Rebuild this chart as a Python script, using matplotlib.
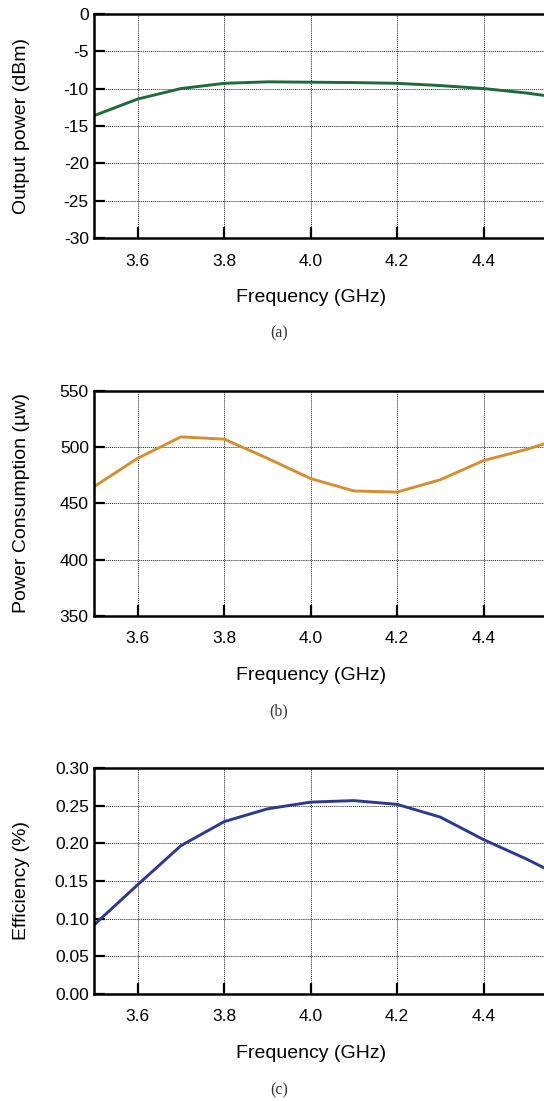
import matplotlib
matplotlib.use('Agg')
import matplotlib.pyplot as plt
from matplotlib import font_manager

freq = [3.5, 3.6, 3.7, 3.8, 3.9, 4.0, 4.1, 4.2, 4.3, 4.4, 4.5, 4.6]
out_power = [-13.6, -11.4, -10.0, -9.3, -9.1, -9.15, -9.2, -9.3, -9.6, -10.0, -10.6, -11.4]
power_cons = [465, 490, 509, 507, 490, 472, 461, 460, 471, 488, 498, 510]
efficiency = [0.092, 0.145, 0.197, 0.229, 0.246, 0.255, 0.257, 0.252, 0.235, 0.205, 0.179, 0.150]

xticks = [3.6, 3.8, 4.0, 4.2, 4.4]
xticklabels = ['3.6', '3.8', '4.0', '4.2', '4.4']

panels = [
    (out_power, '#1d6b3a', 'Output power (dBm)', (-30, 0), [-30, -25, -20, -15, -10, -5, 0],
     ['-30', '-25', '-20', '-15', '-10', '-5', '0'], '(a)'),
    (power_cons, '#d68f2f', 'Power Consumption (\u00b5w)', (350, 550), [350, 400, 450, 500, 550],
     ['350', '400', '450', '500', '550'], '(b)'),
    (efficiency, '#2b3a8f', 'Efficiency (%)', (0, 0.30), [0, 0.05, 0.10, 0.15, 0.20, 0.25, 0.30],
     ['0.00', '0.05', '0.10', '0.15', '0.20', '0.25', '0.30'], '(c)'),
]

installed = {f.name for f in font_manager.fontManager.ttflist}
narrow = 'Liberation Sans Narrow' in installed
sans = ['Liberation Sans Narrow' if narrow else 'Liberation Sans', 'DejaVu Sans']
tick_fs = 14 if narrow else 12.5
lab_fs = 16 if narrow else 14

fig = plt.figure(figsize=(5.44, 11.01), dpi=100)

W, H = 544, 1101
left = 94.4
xmin, xmax = 3.5, 4.6
ppx = 432.5  # px per GHz
aw = (xmax - xmin) * ppx
tops = [13.7, 390.7, 768.3]
bottoms = [238.3, 616.0, 993.7]
captions_y = [333, 711.7, 1090]

for (vals, color, ylabel, ylim, yt, ytl, cap), top, bot, cy in zip(panels, tops, bottoms, captions_y):
    h = bot - top
    ax = fig.add_axes([left / W, 1 - bot / H, aw / W, h / H])
    ax.plot(freq, vals, color=color, linewidth=2.1)
    ax.set_xlim(xmin, xmax)
    ax.set_ylim(*ylim)
    ax.set_xticks(xticks)
    ax.set_xticklabels(xticklabels, family=sans, fontsize=tick_fs)
    ax.set_yticks(yt)
    ax.set_yticklabels(ytl, family=sans, fontsize=tick_fs)
    ax.tick_params(direction='in', length=8, width=1.6, pad=4)
    ax.tick_params(axis='x', pad=11)
    ax.grid(True, linestyle=(0, (1, 1)), color='#222222', linewidth=0.7)
    for s in ax.spines.values():
        s.set_linewidth(1.8)
    ax.set_xlabel('Frequency (GHz)', family=sans, fontsize=lab_fs, va='center')
    ax.xaxis.set_label_coords((4.0 - xmin) / (xmax - xmin), -59.5 / h)
    ax.set_ylabel(ylabel, family=sans, fontsize=lab_fs, va='center')
    ax.yaxis.set_label_coords(-(left - 21) / aw, 0.5)
    fig.text(279 / W, 1 - cy / H, cap, family=['Liberation Serif', 'DejaVu Serif'],
             fontsize=11.5, ha='center', va='center', color='#333333')

fig.savefig('out.png', dpi=100)
